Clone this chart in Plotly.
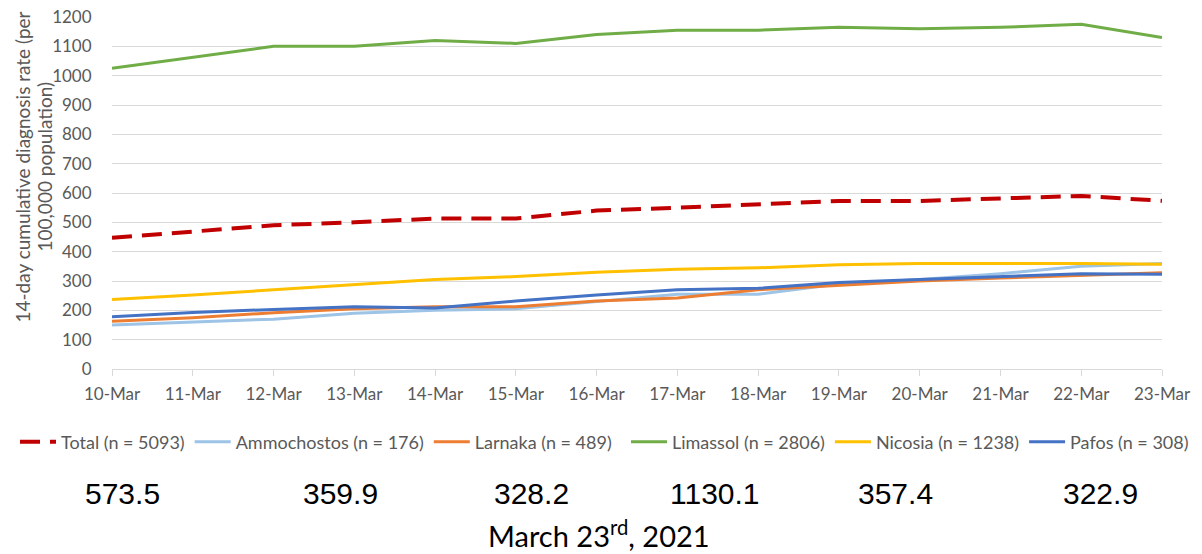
import plotly.graph_objects as go

dates = ["10-Mar", "11-Mar", "12-Mar", "13-Mar", "14-Mar", "15-Mar", "16-Mar",
         "17-Mar", "18-Mar", "19-Mar", "20-Mar", "21-Mar", "22-Mar", "23-Mar"]

total = [447, 467, 490, 500, 513, 513, 540, 550, 560, 573, 573, 583, 590, 573.5]
ammochostos = [150, 160, 170, 190, 200, 205, 230, 255, 255, 290, 305, 325, 350, 359.9]
larnaka = [163, 175, 192, 205, 212, 212, 232, 242, 270, 285, 300, 310, 320, 328.2]
limassol = [1025, 1062, 1100, 1100, 1120, 1110, 1140, 1155, 1155, 1165, 1160, 1165, 1175, 1130.1]
nicosia = [237, 252, 270, 287, 305, 315, 330, 340, 345, 355, 360, 360, 360, 357.4]
pafos = [178, 193, 203, 212, 208, 232, 252, 270, 275, 295, 305, 315, 325, 322.9]

names = ["Total (n = 5093)", "Ammochostos (n = 176)", "Larnaka (n = 489)",
         "Limassol (n = 2806)", "Nicosia (n = 1238)", "Pafos (n = 308)"]
series = [total, ammochostos, larnaka, limassol, nicosia, pafos]
colors = ["#C00000", "#9DC3E6", "#ED7D31", "#70AD47", "#FFC000", "#4472C4"]

y_title_lines = ["14-day cumulative diagnosis rate (per", "100,000 population)"]
date_label = "March 23<sup>rd</sup>, 2021"

# page has an 8px body margin; work in page pixels and convert
OFF = 8
W, H = 1202 - OFF, 554 - OFF
plot_l, plot_r, plot_t, plot_b = 112, 1162, 17, 369  # page pixels
ml = plot_l - OFF
mr = W - (plot_r - OFF)
mt = plot_t - OFF
mb = H - (plot_b - OFF)
pw, ph = plot_r - plot_l, plot_b - plot_t


def px_x(x):
    return (x - plot_l) / pw


def px_y(y):
    return (plot_b - y) / ph


fig = go.Figure()
for i, (nm, vals, col) in enumerate(zip(names, series, colors)):
    line = dict(color=col, width=3)
    if i == 0:
        line = dict(color=col, width=4, dash="20px,10px")
    fig.add_trace(go.Scatter(x=dates, y=vals, mode="lines", name=nm, line=line,
                             legend="legend" if i < 3 else "legend2"))

# last-day values shown below the legend
label_x = [122, 340, 531, 715, 895, 1100]
for vals, px in zip(series, label_x):
    fig.add_annotation(text=f"{vals[-1]:.1f}", xref="paper", yref="paper",
                       x=px_x(px), y=px_y(494),
                       showarrow=False, xanchor="center", yanchor="middle",
                       font=dict(family="Liberation Sans, Arial", size=30, color="#000000"))
fig.add_annotation(text=date_label, xref="paper", yref="paper",
                   x=px_x(599), y=px_y(534),
                   showarrow=False, xanchor="center", yanchor="middle",
                   font=dict(family="Lato, Open Sans", size=29, color="#000000"))
# y-axis title (two lines)
for txt, lx in zip(y_title_lines, [21.5, 43.5]):
    fig.add_annotation(text=txt, xref="paper", yref="paper",
                       x=px_x(lx), y=px_y(167), textangle=-90,
                       showarrow=False, xanchor="center", yanchor="middle",
                       font=dict(family="Lato, Open Sans", size=19, color="#595959"))

legend_common = dict(orientation="h", xref="paper", yref="paper",
                     xanchor="left", yanchor="middle", y=px_y(442),
                     font=dict(size=18, color="#595959"), itemwidth=36,
                     tracegroupgap=0, bgcolor="rgba(0,0,0,0)")

fig.update_layout(
    width=W, height=H,
    margin=dict(l=ml, r=mr, t=mt, b=mb, autoexpand=False),
    paper_bgcolor="white", plot_bgcolor="white",
    font=dict(family="Lato, Open Sans, sans-serif", color="#595959"),
    showlegend=True,
    legend=dict(x=px_x(15), **legend_common),
    legend2=dict(x=px_x(626), **legend_common),
    xaxis=dict(type="category", range=[0, 13], showgrid=False, automargin=False,
               showline=True, linecolor="#d9d9d9", linewidth=1,
               ticks="outside", tickcolor="#d9d9d9", ticklen=6,
               ticklabelstandoff=4, ticklabeloverflow="allow",
               tickfont=dict(size=17, color="#595959")),
    yaxis=dict(range=[0, 1200], dtick=100, showgrid=True, gridcolor="#d9d9d9",
               gridwidth=1, zeroline=False, showline=False, automargin=False,
               ticks="outside", ticklen=16, tickcolor="rgba(0,0,0,0)",
               ticklabeloverflow="allow",
               tickfont=dict(size=17, color="#595959")),
)

fig.write_html("out.html")
